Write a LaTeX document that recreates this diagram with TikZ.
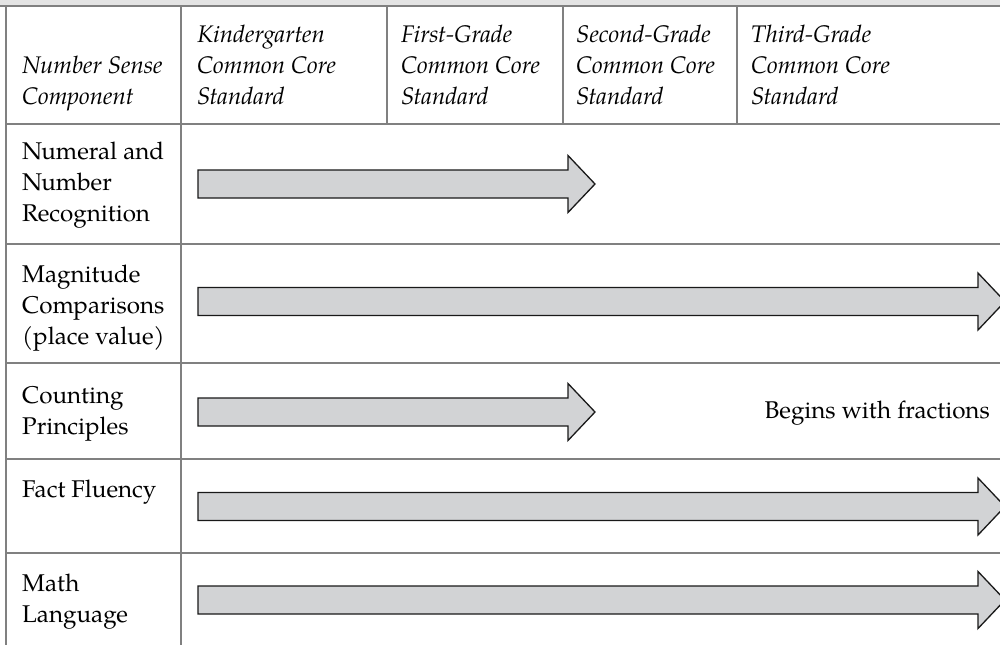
\documentclass[tikz,border=0pt]{standalone}
\usepackage{fontspec}
\setmainfont{TeX Gyre Pagella}
\definecolor{rulegray}{HTML}{808080}
\definecolor{topband}{HTML}{E4E4E4}
\definecolor{arrowfill}{HTML}{D2D3D5}
\tikzset{
  rulepen/.style={draw=rulegray, line width=2.5pt},
  arrowshape/.style={draw=black!90, fill=arrowfill, line width=1.3pt, line join=miter},
  headtext/.style={anchor=base west, inner sep=0pt, font=\fontsize{24}{31}\selectfont\itshape},
  bodytext/.style={anchor=base west, inner sep=0pt, font=\fontsize{24.2}{31}\selectfont},
}
\newcommand\gradearrow[3]{%
  \draw[arrowshape] (198,#1-14) -- (#2-27,#1-14) -- (#2-27,#1-28.5) -- (#2,#1)
    -- (#2-27,#1+28.5) -- (#2-27,#1+14) -- (198,#1+14) -- cycle;
  \coordinate (#3) at (#2,#1);}
\newcommand\celllines[1]{\begin{tabular}[t]{@{}l@{}}#1\end{tabular}}
\begin{document}
\begin{tikzpicture}[x=1pt,y=-1pt]
\useasboundingbox (0,0) rectangle (1000,645);
\clip (0,0) rectangle (1000,645);
\fill[white] (0,0) rectangle (1000,645);
\fill[topband] (0,0) rectangle (1000,4.5);
% rules
\draw[rulepen] (0,5.8) -- (1000,5.8);
\draw[rulepen] (6,5) -- (6,645);
\draw[rulepen] (181,5) -- (181,645);
\draw[rulepen] (387,5) -- (387,124);
\draw[rulepen] (563,5) -- (563,124);
\draw[rulepen] (737,5) -- (737,124);
\foreach \yy in {124,244,363,459,553} {\draw[rulepen] (6,\yy) -- (1000,\yy);}
% header
\renewcommand\arraystretch{1}
\node[headtext] (h0) at (22,73) {\celllines{Number Sense\\Component}};
\node[headtext] (h1) at (197,42) {\celllines{Kindergarten\\Common Core\\Standard}};
\node[headtext] (h2) at (401,42) {\celllines{First-Grade\\Common Core\\Standard}};
\node[headtext] (h3) at (576,42) {\celllines{Second-Grade\\Common Core\\Standard}};
\node[headtext] (h4) at (751,42) {\celllines{Third-Grade\\Common Core\\Standard}};
% row labels
\node[bodytext] (r1) at (22,159) {\celllines{Numeral and\\Number\\Recognition}};
\node[bodytext] (r2) at (22,282) {\celllines{Magnitude\\Comparisons\\(place value)}};
\node[bodytext] (r3) at (22,403) {\celllines{Counting\\Principles}};
\node[bodytext] (r4) at (22,497) {\celllines{Fact Fluency}};
\node[bodytext] (r5) at (22,591) {\celllines{Math\\Language}};
% arrows
\gradearrow{184}{595}{a1}
\gradearrow{301.5}{1005}{a2}
\gradearrow{412}{595}{a3}
\gradearrow{506.5}{1005}{a4}
\gradearrow{600}{1005}{a5}
\node[anchor=base east, inner sep=0pt, font=\fontsize{24.2}{31}\selectfont] (note) at (990,418) {Begins with fractions};
\end{tikzpicture}
\end{document}
